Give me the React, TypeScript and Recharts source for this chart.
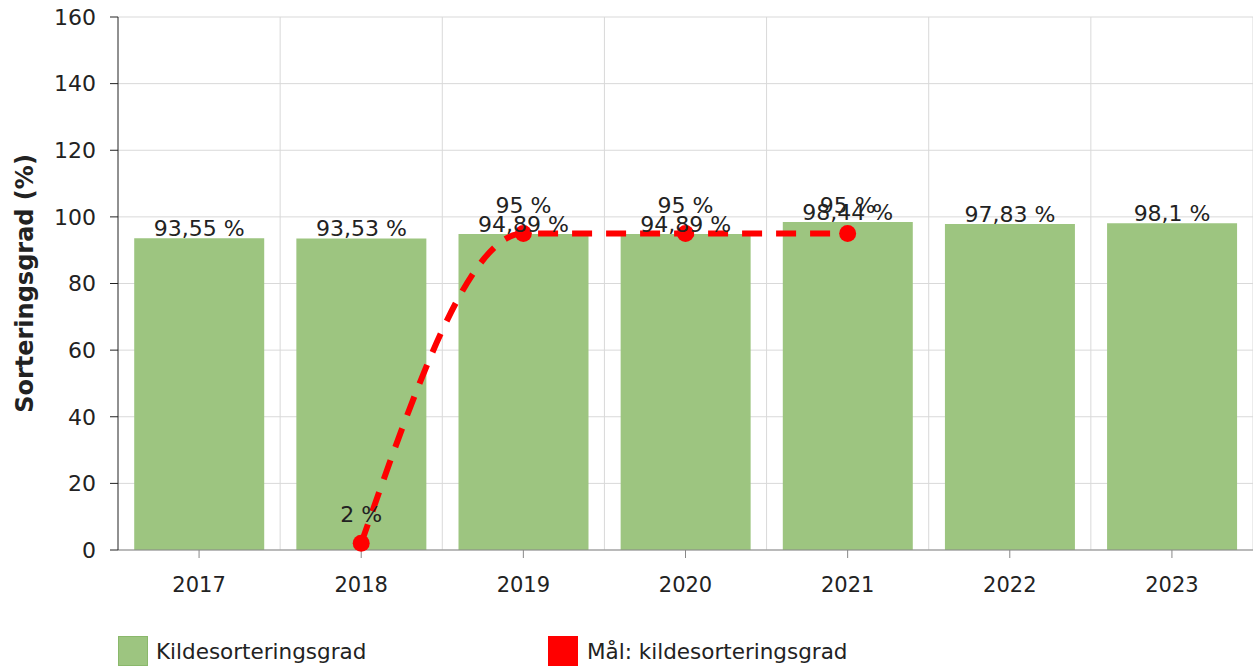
import {
  ComposedChart,
  Bar,
  Line,
  XAxis,
  YAxis,
  CartesianGrid,
  LabelList,
} from 'recharts';

if (typeof document !== 'undefined') document.body.style.margin = '0';

const years = ['2017', '2018', '2019', '2020', '2021', '2022', '2023'];
const sortingRate = [93.55, 93.53, 94.89, 94.89, 98.44, 97.83, 98.1];
const target: (number | null)[] = [null, 2, 95, 95, 95, null, null];
const yTicks = [0, 20, 40, 60, 80, 100, 120, 140, 160];

const data = years.map((year, i) => ({
  year,
  rate: sortingRate[i],
  target: target[i],
}));

const barColor = '#9dc580';
const lineColor = '#ff0000';
const font = '"DejaVu Sans", Verdana, sans-serif';

const fmt = (v: any) => (v == null ? '' : String(v).replace('.', ',') + ' %');

export default function App() {
  return (
    <div style={{ position: 'relative', width: 1253, height: 667, fontFamily: font }}>
      <ComposedChart
        width={1253}
        height={600}
        data={data}
        margin={{ top: 17, right: 0, left: 0, bottom: 10 }}
        barCategoryGap="10%"
      >
        <CartesianGrid
          stroke="#d9d9d9"
          verticalCoordinatesGenerator={({ offset }: any) =>
            years.map((_, i) => offset.left + ((i + 1) * offset.width) / years.length)
          }
        />
        <XAxis
          dataKey="year"
          height={40}
          stroke="#888"
          tickSize={8}
          tickMargin={19}
          tick={{ fill: '#222', fontSize: 21, fontFamily: font }}
        />
        <YAxis
          width={118}
          domain={[0, 160]}
          ticks={yTicks}
          interval={0}
          stroke="#222"
          tickSize={8}
          tickMargin={14}
          tick={{ fill: '#222', fontSize: 22, fontFamily: font }}
          label={{
            content: ({ viewBox }: any) => (
              <text
                x={25}
                y={viewBox.y + viewBox.height / 2}
                transform={`rotate(-90 25 ${viewBox.y + viewBox.height / 2})`}
                textAnchor="middle"
                dominantBaseline="central"
                fontSize={24}
                fontWeight="bold"
                fontFamily={font}
                fill="#222"
              >
                Sorteringsgrad (%)
              </text>
            ),
          }}
        />
        <Bar dataKey="rate" fill={barColor} isAnimationActive={false}>
          <LabelList
            dataKey="rate"
            position="top"
            offset={2}
            formatter={fmt}
            style={{ fill: '#222', fontSize: 22, fontFamily: font }}
          />
        </Bar>
        <Line
          dataKey="target"
          type="monotone"
          stroke={lineColor}
          strokeWidth={6}
          strokeDasharray="20 14"
          dot={{ r: 8.5, fill: lineColor, stroke: 'none' }}
          isAnimationActive={false}
        >
          <LabelList
            dataKey="target"
            position="top"
            offset={21}
            formatter={fmt}
            style={{ fill: '#222', fontSize: 22, fontFamily: font }}
          />
        </Line>
      </ComposedChart>
      <div
        style={{
          position: 'absolute',
          top: 636,
          left: 118,
          display: 'flex',
          alignItems: 'center',
          fontSize: 21.5,
          color: '#222',
        }}
      >
        <span
          style={{
            width: 28,
            height: 28,
            background: barColor,
            border: '1px solid #8ab86b',
            display: 'inline-block',
          }}
        />
        <span style={{ marginLeft: 8, width: 392 }}>Kildesorteringsgrad</span>
        <span
          style={{ width: 30, height: 30, background: lineColor, display: 'inline-block' }}
        />
        <span style={{ marginLeft: 9 }}>Mål: kildesorteringsgrad</span>
      </div>
    </div>
  );
}
